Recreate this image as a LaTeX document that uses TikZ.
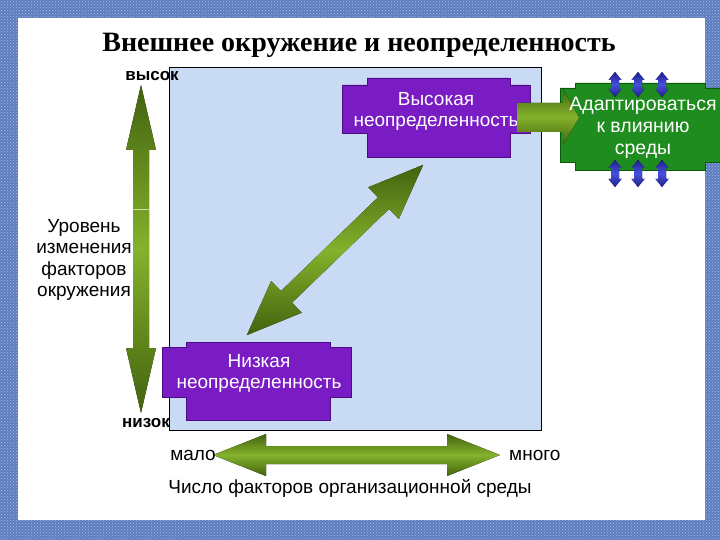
\documentclass[tikz,border=0pt]{standalone}
\usepackage{fontspec}
\setmainfont{Liberation Sans}
\newfontfamily\titlefont{Liberation Serif}
\usepackage{tikz}
\usetikzlibrary{patterns,positioning,calc}

\definecolor{frameblue}{RGB}{92,124,192}
\definecolor{paleblue}{RGB}{200,218,244}
\definecolor{boxpurple}{RGB}{122,28,196}
\definecolor{edgepurple}{RGB}{78,10,130}
\definecolor{boxgreen}{RGB}{30,140,30}
\definecolor{edgegreen}{RGB}{10,90,10}
\definecolor{olivedark}{RGB}{66,98,14}
\definecolor{olivelight}{RGB}{132,178,44}
\definecolor{arrblue}{RGB}{70,80,220}
\definecolor{arrbluedark}{RGB}{30,30,140}

\tikzset{
  greenarrow/.style={top color=olivedark, bottom color=olivedark, middle color=olivelight},
  bluearrow/.style={top color=arrbluedark, bottom color=arrbluedark, middle color=arrblue},
  purplebox/.style={fill=boxpurple, draw=edgepurple, line width=0.8pt},
  adaptbox/.style={fill=boxgreen, draw=edgegreen, line width=0.8pt},
  boxtext/.style={text=white, font=\fontsize{19}{21}\selectfont, align=center, inner sep=0pt},
  axislabel/.style={font=\fontsize{19}{21.5}\selectfont, align=center, inner sep=0pt},
  endlabel/.style={font=\bfseries\fontsize{17}{18}\selectfont, inner sep=0pt},
}

% double block arrow: centre x, centre y, angle, length, half shaft, half head, head length, style
\newcommand{\dblarrow}[8]{%
  \begin{scope}[shift={(#1,#2)},rotate=#3]
    \fill[#8] (-#4/2,0) -- (-#4/2+#7,#6) -- (-#4/2+#7,#5) -- (#4/2-#7,#5) -- (#4/2-#7,#6)
      -- (#4/2,0) -- (#4/2-#7,-#6) -- (#4/2-#7,-#5) -- (-#4/2+#7,-#5) -- (-#4/2+#7,-#6) -- cycle;
  \end{scope}}

\begin{document}
\begin{tikzpicture}[x=1pt,y=-1pt]
\useasboundingbox (0,0) rectangle (720,540);
% frame
\fill[frameblue] (0,0) rectangle (720,540);
\fill[pattern=crosshatch dots, pattern color=white!50!frameblue] (0,0) rectangle (720,540);
\fill[white] (18,18) rectangle (705,520);
\node[font=\titlefont\bfseries\fontsize{28}{34}\selectfont] (title) at (359,45) {Внешнее окружение и неопределенность};

% field
\draw[fill=paleblue, line width=0.8pt] (169,67) rectangle (541,430);

% axes
\dblarrow{141}{249}{90}{328}{8}{15}{65}{greenarrow}
\draw[white!60!olivelight, line width=1pt] (133,210) -- (149,210);
\dblarrow{356.5}{455}{0}{287}{9}{21}{53}{greenarrow}
\dblarrow{335}{250}{44}{245}{8}{22}{55}{greenarrow}

% boxes
\draw[purplebox] (367,78) -- (510,78) -- (510,85) -- (530,85) -- (530,133) -- (510,133) -- (510,157)
  -- (367,157) -- (367,133) -- (342,133) -- (342,85) -- (367,85) -- cycle;
\node[boxtext] (hi) at (436,111) {Высокая\\неопределенность};
\draw[purplebox] (186,342) -- (330,342) -- (330,347) -- (351,347) -- (351,397) -- (330,397) -- (330,420)
  -- (186,420) -- (186,397) -- (162,397) -- (162,347) -- (186,347) -- cycle;
\node[boxtext] (lo) at (259,373) {Низкая\\неопределенность};

\draw[adaptbox] (575,83) -- (705,83) -- (705,88) -- (722,88) -- (722,162) -- (705,162) -- (705,170)
  -- (575,170) -- (575,162) -- (560,162) -- (560,88) -- (575,88) -- cycle;
\fill[greenarrow] (517,103) -- (563,103) -- (563,89) -- (579,117.5) -- (563,145) -- (563,132) -- (517,132) -- cycle;
\node[boxtext, font=\fontsize{19.5}{22}\selectfont] (adapt) at (643,128) {Адаптироваться\\к влиянию\\среды};
\foreach \bx in {615,638,662}{
  \dblarrow{\bx}{84.5}{90}{25}{4}{6.5}{8}{bluearrow}
  \dblarrow{\bx}{173.5}{90}{27}{4}{6.5}{8}{bluearrow}
}

% labels
\node[endlabel] (high) at (152,76) {высок};
\node[endlabel] (low) at (146,423) {низок};
\node[axislabel] (level) at (84,260) {Уровень\\изменения\\факторов\\окружения};
\node[axislabel, anchor=east] (few) at (216,455) {мало};
\node[axislabel, anchor=west] (many) at (509,455) {много};
\node[axislabel] (count) at (350,488) {Число факторов организационной среды};
\end{tikzpicture}
\end{document}
